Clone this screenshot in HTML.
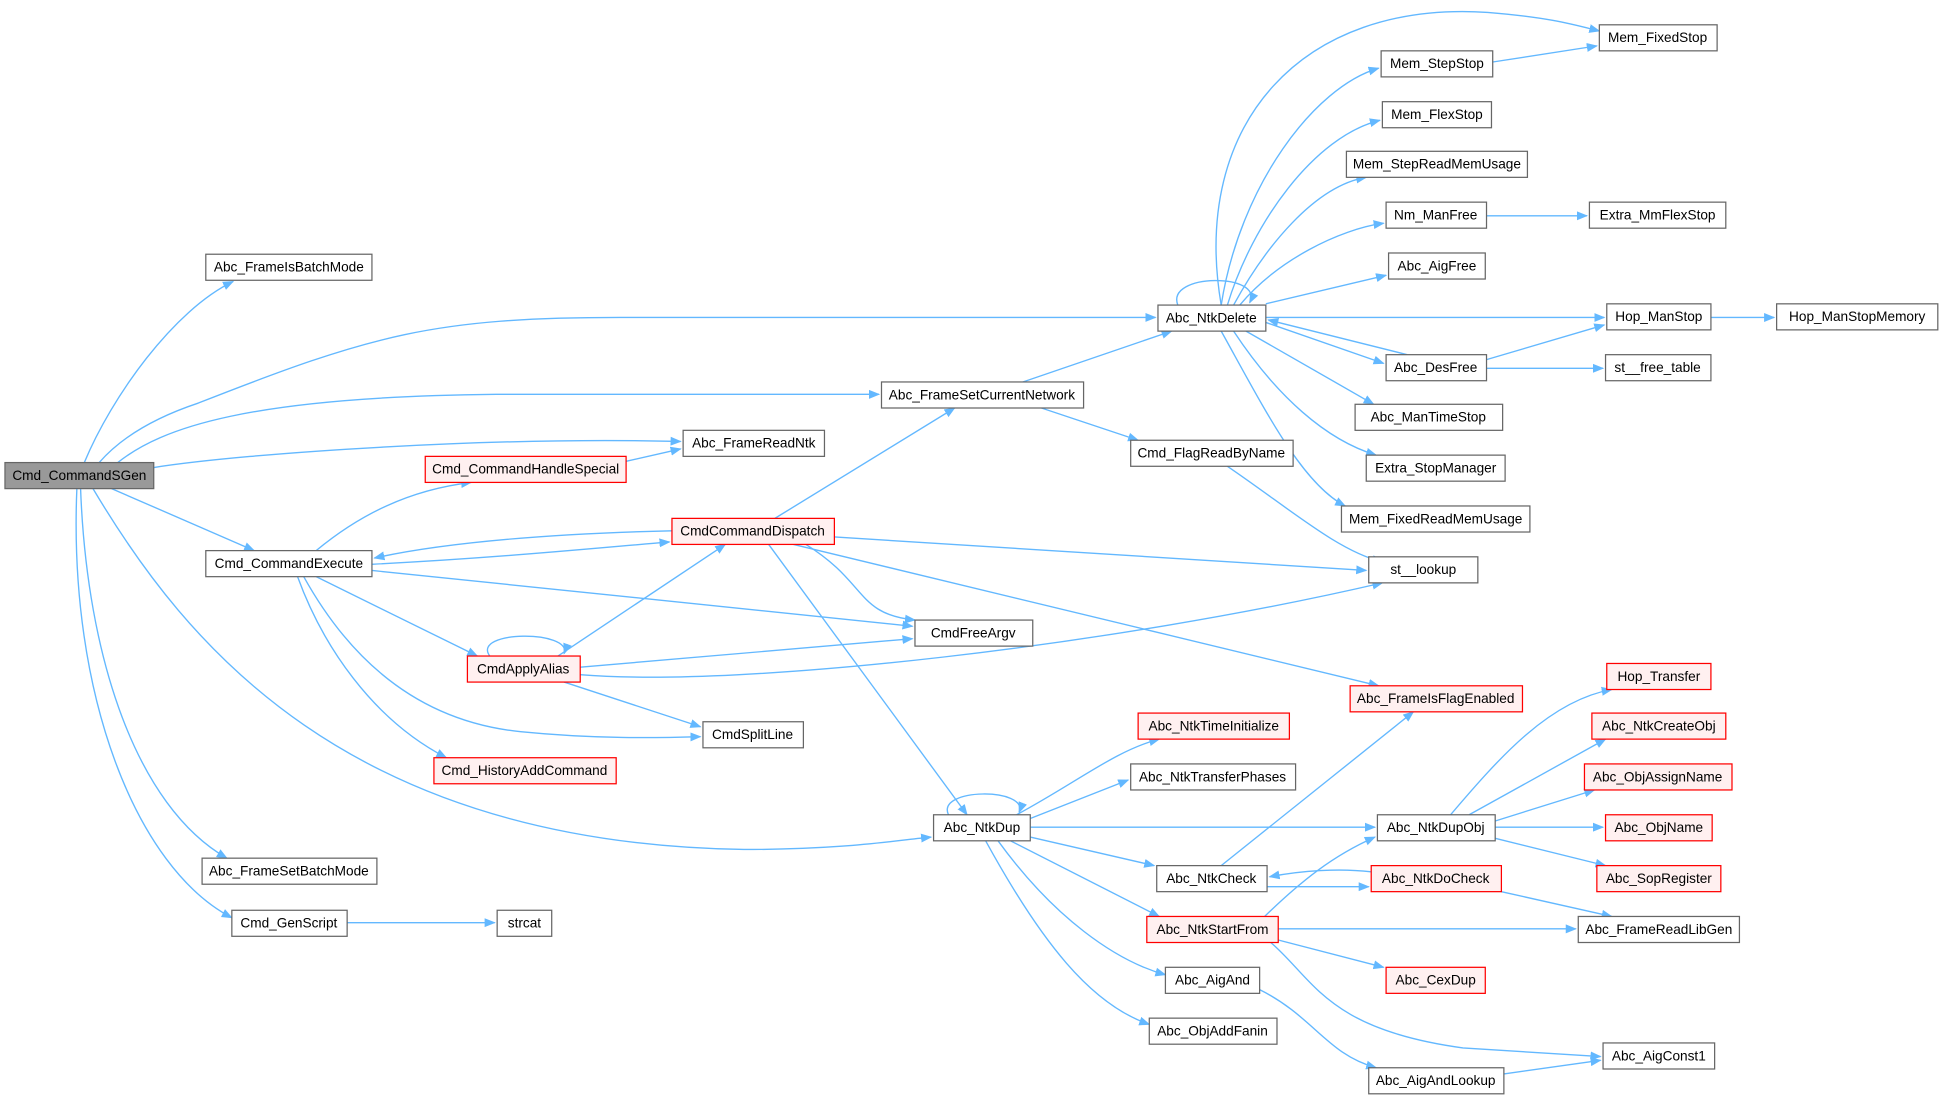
<!DOCTYPE html>
<html><head><meta charset="utf-8"><style>
html,body{margin:0;padding:0;background:#fff;}
svg{display:block;}
text{font-family:"Liberation Sans",Arial,sans-serif;font-size:11px;fill:#000;}
.e{fill:none;stroke:#63b8ff;stroke-width:1.1;}
</style></head><body>
<svg width="1944" height="1100" viewBox="0 0 1568 887" preserveAspectRatio="none" xmlns="http://www.w3.org/2000/svg">
<defs><marker id="a" viewBox="0 0 10 10" refX="9" refY="5" markerWidth="9" markerHeight="9" orient="auto" markerUnits="userSpaceOnUse"><path d="M0,1 L10,5 L0,9 z" fill="#63b8ff"/></marker></defs>
<g class="e" marker-end="url(#a)">
<path d="M68,373 C90,320 140,250 188,227"/>
<path d="M80,373 C100,350 130,335 160,325 C300,270 350,256 500,256 L932,256"/>
<path d="M95,373 C130,345 200,320 400,318 L709,318"/>
<path d="M124,377 C200,365 400,352 549,356"/>
<path d="M90,394 L205,444"/>
<path d="M75,394 C150,520 280,680 600,685 C680,685 720,678 751,675"/>
<path d="M65,394 C70,530 110,650 183,692"/>
<path d="M62,394 C55,560 110,700 187,740"/>
<path d="M280,744 L399,744"/>
<path d="M255,444 C290,415 330,395 380,389"/>
<path d="M505,372 L549,362"/>
<path d="M300,455 C400,450 480,442 540,437"/>
<path d="M542,428 C450,430 360,437 302,450"/>
<path d="M300,460 C500,480 650,495 736,505"/>
<path d="M255,465 L385,529"/>
<path d="M245,465 C270,510 320,580 420,590 C480,596 530,595 565,594"/>
<path d="M240,465 C260,520 300,580 360,611"/>
<path d="M395,529 C380,508 462,508 455,527"/>
<path d="M450,529 L585,439"/>
<path d="M468,538 L736,515"/>
<path d="M455,550 L565,586"/>
<path d="M468,544 C600,555 900,520 1115,470"/>
<path d="M625,418 L770,329"/>
<path d="M650,439 C700,470 690,495 738,500"/>
<path d="M673,433 L1102,460"/>
<path d="M640,439 L1112,553"/>
<path d="M620,439 L780,657"/>
<path d="M825,308 L945,267"/>
<path d="M840,329 L918,355"/>
<path d="M990,376 C1040,410 1080,445 1115,453"/>
<path d="M950,246 C940,220 1020,220 1008,244"/>
<path d="M985,246 C960,100 1050,0 1200,10 C1250,14 1270,20 1290,25"/>
<path d="M985,246 C1000,150 1060,70 1112,55"/>
<path d="M1204,50 L1288,37"/>
<path d="M990,246 C1010,180 1060,110 1113,97"/>
<path d="M995,246 C1020,200 1060,150 1102,143"/>
<path d="M1000,246 C1030,210 1080,185 1116,180"/>
<path d="M1199,174 L1280,174"/>
<path d="M1021,245 L1118,222"/>
<path d="M1021,256 L1294,256"/>
<path d="M1380,256 L1431,256"/>
<path d="M1021,260 L1116,293"/>
<path d="M1135,286 L1023,258"/>
<path d="M1199,290 L1294,262"/>
<path d="M1199,297 L1293,297"/>
<path d="M1005,267 L1108,326"/>
<path d="M995,267 C1030,320 1070,355 1110,367"/>
<path d="M985,267 C1020,330 1050,390 1085,408"/>
<path d="M765,657 C755,635 830,635 822,655"/>
<path d="M820,657 C870,630 900,605 935,596"/>
<path d="M831,660 L910,629"/>
<path d="M831,667 L1109,667"/>
<path d="M831,675 L931,698"/>
<path d="M815,678 L935,739"/>
<path d="M805,678 C850,740 900,775 940,786"/>
<path d="M795,678 C840,760 880,810 927,826"/>
<path d="M985,698 L1140,574"/>
<path d="M1022,715 L1104,715"/>
<path d="M1106,703 C1080,700 1050,702 1024,707"/>
<path d="M1211,719 L1300,739"/>
<path d="M1020,739 C1050,710 1075,690 1109,675"/>
<path d="M1031,749 L1271,749"/>
<path d="M1031,758 L1116,780"/>
<path d="M1025,760 C1060,790 1070,830 1180,845 L1291,852"/>
<path d="M1016,798 C1060,820 1070,850 1110,861"/>
<path d="M1213,866 L1291,855"/>
<path d="M1170,657 C1210,610 1250,565 1300,556"/>
<path d="M1185,657 L1295,596"/>
<path d="M1206,662 L1286,637"/>
<path d="M1206,667 L1293,667"/>
<path d="M1206,676 L1295,698"/>
</g>
<g stroke-width="1">
<!-- boxes: x,y,w,h -->
<rect x="4" y="373" width="120" height="21" fill="#999" stroke="#666"/>
<g fill="#fff" stroke="#666">
<rect x="166" y="205" width="134" height="21"/>
<rect x="934" y="246" width="87" height="21"/>
<rect x="711" y="308" width="163" height="21"/>
<rect x="551" y="347" width="114" height="21"/>
<rect x="912" y="355" width="131" height="21"/>
<rect x="166" y="444" width="134" height="21"/>
<rect x="1104" y="449" width="88" height="21"/>
<rect x="738" y="500" width="95" height="21"/>
<rect x="567" y="582" width="81" height="21"/>
<rect x="753" y="657" width="78" height="21"/>
<rect x="912" y="616" width="133" height="21"/>
<rect x="1111" y="657" width="95" height="21"/>
<rect x="933" y="698" width="89" height="21"/>
<rect x="940" y="780" width="76" height="21"/>
<rect x="927" y="821" width="103" height="21"/>
<rect x="1104" y="861" width="109" height="21"/>
<rect x="1273" y="739" width="130" height="21"/>
<rect x="1293" y="841" width="90" height="21"/>
<rect x="163" y="692" width="141" height="21"/>
<rect x="187" y="734" width="93" height="21"/>
<rect x="401" y="734" width="44" height="21"/>
<rect x="1290" y="20" width="95" height="21"/>
<rect x="1114" y="41" width="90" height="21"/>
<rect x="1115" y="82" width="88" height="21"/>
<rect x="1086" y="122" width="146" height="21"/>
<rect x="1118" y="163" width="81" height="21"/>
<rect x="1282" y="163" width="110" height="21"/>
<rect x="1120" y="204" width="78" height="21"/>
<rect x="1296" y="245" width="84" height="21"/>
<rect x="1433" y="245" width="130" height="21"/>
<rect x="1118" y="286" width="81" height="21"/>
<rect x="1295" y="286" width="85" height="21"/>
<rect x="1093" y="326" width="119" height="21"/>
<rect x="1102" y="367" width="112" height="21"/>
<rect x="1082" y="408" width="152" height="21"/>
</g>
<g fill="#fff0f0" stroke="#ff0000">
<rect x="343" y="368" width="162" height="21"/>
<rect x="542" y="418" width="131" height="21"/>
<rect x="377" y="529" width="91" height="21"/>
<rect x="350" y="611" width="147" height="21"/>
<rect x="1089" y="553" width="139" height="21"/>
<rect x="918" y="575" width="122" height="21"/>
<rect x="1106" y="698" width="105" height="21"/>
<rect x="925" y="739" width="106" height="21"/>
<rect x="1118" y="780" width="80" height="21"/>
<rect x="1296" y="535" width="84" height="21"/>
<rect x="1284" y="575" width="108" height="21"/>
<rect x="1278" y="616" width="119" height="21"/>
<rect x="1295" y="657" width="86" height="21"/>
<rect x="1288" y="698" width="100" height="21"/>
</g>
</g>
<g text-anchor="middle">
<text x="64" y="387">Cmd_CommandSGen</text>
<text x="233" y="219">Abc_FrameIsBatchMode</text>
<text x="977" y="260">Abc_NtkDelete</text>
<text x="792" y="322">Abc_FrameSetCurrentNetwork</text>
<text x="608" y="361">Abc_FrameReadNtk</text>
<text x="977" y="369">Cmd_FlagReadByName</text>
<text x="233" y="458">Cmd_CommandExecute</text>
<text x="1148" y="463">st__lookup</text>
<text x="785" y="514">CmdFreeArgv</text>
<text x="607" y="596">CmdSplitLine</text>
<text x="792" y="671">Abc_NtkDup</text>
<text x="978" y="630">Abc_NtkTransferPhases</text>
<text x="1158" y="671">Abc_NtkDupObj</text>
<text x="977" y="712">Abc_NtkCheck</text>
<text x="978" y="794">Abc_AigAnd</text>
<text x="978" y="835">Abc_ObjAddFanin</text>
<text x="1158" y="875">Abc_AigAndLookup</text>
<text x="1338" y="753">Abc_FrameReadLibGen</text>
<text x="1338" y="855">Abc_AigConst1</text>
<text x="233" y="706">Abc_FrameSetBatchMode</text>
<text x="233" y="748">Cmd_GenScript</text>
<text x="423" y="748">strcat</text>
<text x="1337" y="34">Mem_FixedStop</text>
<text x="1159" y="55">Mem_StepStop</text>
<text x="1159" y="96">Mem_FlexStop</text>
<text x="1159" y="136">Mem_StepReadMemUsage</text>
<text x="1158" y="177">Nm_ManFree</text>
<text x="1337" y="177">Extra_MmFlexStop</text>
<text x="1159" y="218">Abc_AigFree</text>
<text x="1338" y="259">Hop_ManStop</text>
<text x="1498" y="259">Hop_ManStopMemory</text>
<text x="1158" y="300">Abc_DesFree</text>
<text x="1337" y="300">st__free_table</text>
<text x="1152" y="340">Abc_ManTimeStop</text>
<text x="1158" y="381">Extra_StopManager</text>
<text x="1158" y="422">Mem_FixedReadMemUsage</text>
<text x="424" y="382">Cmd_CommandHandleSpecial</text>
<text x="607" y="432">CmdCommandDispatch</text>
<text x="422" y="543">CmdApplyAlias</text>
<text x="423" y="625">Cmd_HistoryAddCommand</text>
<text x="1158" y="567">Abc_FrameIsFlagEnabled</text>
<text x="979" y="589">Abc_NtkTimeInitialize</text>
<text x="1158" y="712">Abc_NtkDoCheck</text>
<text x="978" y="753">Abc_NtkStartFrom</text>
<text x="1158" y="794">Abc_CexDup</text>
<text x="1338" y="549">Hop_Transfer</text>
<text x="1338" y="589">Abc_NtkCreateObj</text>
<text x="1337" y="630">Abc_ObjAssignName</text>
<text x="1338" y="671">Abc_ObjName</text>
<text x="1338" y="712">Abc_SopRegister</text>
</g>
</svg>
</body></html>
